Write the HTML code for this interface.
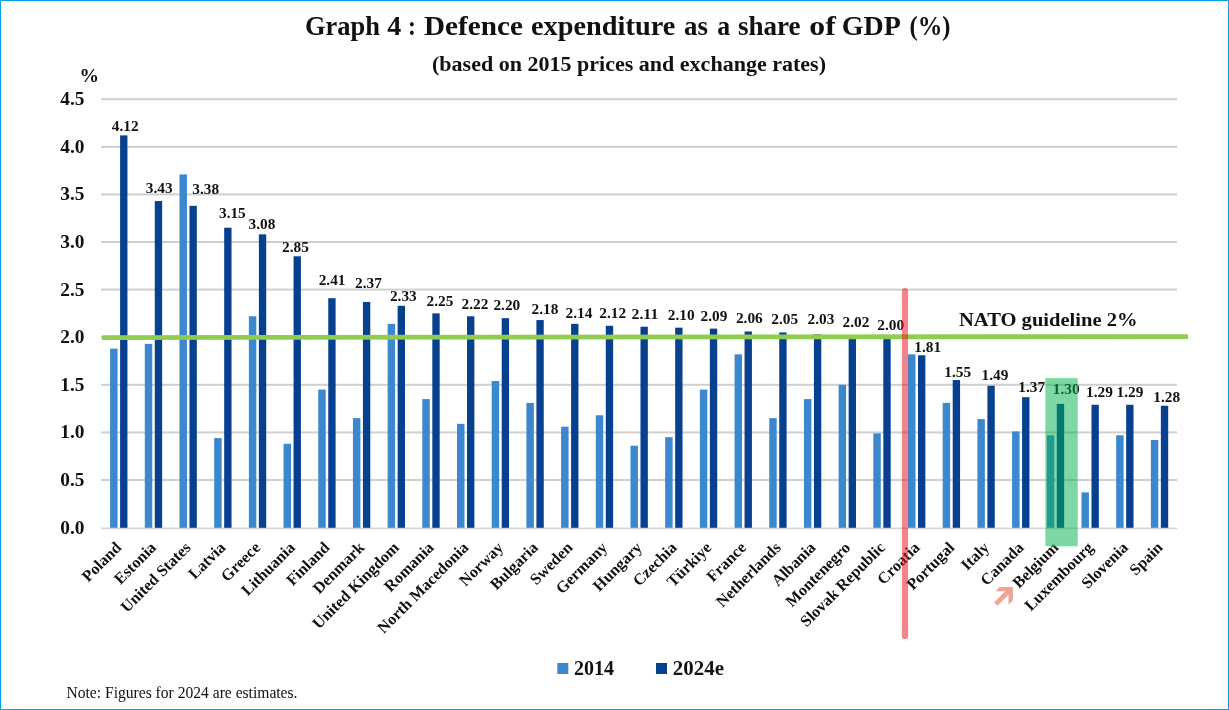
<!DOCTYPE html>
<html><head><meta charset="utf-8"><title>Graph 4</title>
<style>
html,body{margin:0;padding:0;background:#fff;}
body{width:1229px;height:710px;overflow:hidden;}
svg{display:block;will-change:transform;}
text{font-family:"Liberation Serif",serif;fill:#111;}
.title{font-size:26.5px;font-weight:bold;}
.sub{font-size:20.5px;font-weight:bold;}
.yl{font-size:19px;font-weight:bold;}
.pct{font-size:19.5px;font-weight:bold;}
.vl{font-size:14.5px;font-weight:bold;}
.xl{font-size:16.1px;font-weight:bold;}
.nato{font-size:19.6px;font-weight:bold;}
.leg{font-size:20px;font-weight:bold;}
.note{font-size:16px;}
</style></head><body>
<svg width="1229" height="710" viewBox="0 0 1229 710">
<rect x="0" y="0" width="1229" height="710" fill="#ffffff"/>
<rect x="101.0" y="527.50" width="1076.0" height="1.7" fill="#d6d6d6"/>
<rect x="101.0" y="479.00" width="1076.0" height="2" fill="#cfcfcf"/>
<rect x="101.0" y="431.40" width="1076.0" height="2" fill="#cfcfcf"/>
<rect x="101.0" y="383.80" width="1076.0" height="2" fill="#cfcfcf"/>
<rect x="101.0" y="336.20" width="1076.0" height="2" fill="#cfcfcf"/>
<rect x="101.0" y="288.60" width="1076.0" height="2" fill="#cfcfcf"/>
<rect x="101.0" y="241.00" width="1076.0" height="2" fill="#cfcfcf"/>
<rect x="101.0" y="193.40" width="1076.0" height="2" fill="#cfcfcf"/>
<rect x="101.0" y="145.80" width="1076.0" height="2" fill="#cfcfcf"/>
<rect x="101.0" y="98.20" width="1076.0" height="2" fill="#cfcfcf"/>
<text x="84.5" y="533.60" class="yl" text-anchor="end" textLength="24.2" lengthAdjust="spacingAndGlyphs">0.0</text>
<text x="84.5" y="486.00" class="yl" text-anchor="end" textLength="24.2" lengthAdjust="spacingAndGlyphs">0.5</text>
<text x="84.5" y="438.40" class="yl" text-anchor="end" textLength="24.2" lengthAdjust="spacingAndGlyphs">1.0</text>
<text x="84.5" y="390.80" class="yl" text-anchor="end" textLength="24.2" lengthAdjust="spacingAndGlyphs">1.5</text>
<text x="84.5" y="343.20" class="yl" text-anchor="end" textLength="24.2" lengthAdjust="spacingAndGlyphs">2.0</text>
<text x="84.5" y="295.60" class="yl" text-anchor="end" textLength="24.2" lengthAdjust="spacingAndGlyphs">2.5</text>
<text x="84.5" y="248.00" class="yl" text-anchor="end" textLength="24.2" lengthAdjust="spacingAndGlyphs">3.0</text>
<text x="84.5" y="200.40" class="yl" text-anchor="end" textLength="24.2" lengthAdjust="spacingAndGlyphs">3.5</text>
<text x="84.5" y="152.80" class="yl" text-anchor="end" textLength="24.2" lengthAdjust="spacingAndGlyphs">4.0</text>
<text x="84.5" y="105.20" class="yl" text-anchor="end" textLength="24.2" lengthAdjust="spacingAndGlyphs">4.5</text>
<text x="79.5" y="81.5" class="pct">%</text>
<rect x="110.10" y="348.62" width="7.45" height="179.18" fill="#3b88ce"/>
<rect x="120.10" y="135.38" width="7.35" height="392.42" fill="#06408f"/>
<rect x="144.79" y="343.86" width="7.45" height="183.94" fill="#3b88ce"/>
<rect x="154.79" y="201.06" width="7.35" height="326.74" fill="#06408f"/>
<rect x="179.48" y="174.41" width="7.45" height="353.39" fill="#3b88ce"/>
<rect x="189.48" y="205.82" width="7.35" height="321.98" fill="#06408f"/>
<rect x="214.18" y="438.11" width="7.45" height="89.69" fill="#3b88ce"/>
<rect x="224.18" y="227.72" width="7.35" height="300.08" fill="#06408f"/>
<rect x="248.87" y="316.26" width="7.45" height="211.54" fill="#3b88ce"/>
<rect x="258.87" y="234.38" width="7.35" height="293.42" fill="#06408f"/>
<rect x="283.56" y="443.82" width="7.45" height="83.98" fill="#3b88ce"/>
<rect x="293.56" y="256.28" width="7.35" height="271.52" fill="#06408f"/>
<rect x="318.25" y="389.56" width="7.45" height="138.24" fill="#3b88ce"/>
<rect x="328.25" y="298.17" width="7.35" height="229.63" fill="#06408f"/>
<rect x="352.94" y="418.12" width="7.45" height="109.68" fill="#3b88ce"/>
<rect x="362.94" y="301.98" width="7.35" height="225.82" fill="#06408f"/>
<rect x="387.64" y="323.87" width="7.45" height="203.93" fill="#3b88ce"/>
<rect x="397.64" y="305.78" width="7.35" height="222.02" fill="#06408f"/>
<rect x="422.33" y="399.08" width="7.45" height="128.72" fill="#3b88ce"/>
<rect x="432.33" y="313.40" width="7.35" height="214.40" fill="#06408f"/>
<rect x="457.02" y="423.83" width="7.45" height="103.97" fill="#3b88ce"/>
<rect x="467.02" y="316.26" width="7.35" height="211.54" fill="#06408f"/>
<rect x="491.71" y="380.99" width="7.45" height="146.81" fill="#3b88ce"/>
<rect x="501.71" y="318.16" width="7.35" height="209.64" fill="#06408f"/>
<rect x="526.40" y="402.89" width="7.45" height="124.91" fill="#3b88ce"/>
<rect x="536.40" y="320.06" width="7.35" height="207.74" fill="#06408f"/>
<rect x="561.10" y="426.69" width="7.45" height="101.11" fill="#3b88ce"/>
<rect x="571.10" y="323.87" width="7.35" height="203.93" fill="#06408f"/>
<rect x="595.79" y="415.26" width="7.45" height="112.54" fill="#3b88ce"/>
<rect x="605.79" y="325.78" width="7.35" height="202.02" fill="#06408f"/>
<rect x="630.48" y="445.73" width="7.45" height="82.07" fill="#3b88ce"/>
<rect x="640.48" y="326.73" width="7.35" height="201.07" fill="#06408f"/>
<rect x="665.17" y="437.16" width="7.45" height="90.64" fill="#3b88ce"/>
<rect x="675.17" y="327.68" width="7.35" height="200.12" fill="#06408f"/>
<rect x="699.86" y="389.56" width="7.45" height="138.24" fill="#3b88ce"/>
<rect x="709.86" y="328.63" width="7.35" height="199.17" fill="#06408f"/>
<rect x="734.56" y="354.34" width="7.45" height="173.46" fill="#3b88ce"/>
<rect x="744.56" y="331.49" width="7.35" height="196.31" fill="#06408f"/>
<rect x="769.25" y="418.12" width="7.45" height="109.68" fill="#3b88ce"/>
<rect x="779.25" y="332.44" width="7.35" height="195.36" fill="#06408f"/>
<rect x="803.94" y="399.08" width="7.45" height="128.72" fill="#3b88ce"/>
<rect x="813.94" y="334.34" width="7.35" height="193.46" fill="#06408f"/>
<rect x="838.63" y="384.80" width="7.45" height="143.00" fill="#3b88ce"/>
<rect x="848.63" y="335.30" width="7.35" height="192.50" fill="#06408f"/>
<rect x="873.32" y="433.35" width="7.45" height="94.45" fill="#3b88ce"/>
<rect x="883.32" y="337.20" width="7.35" height="190.60" fill="#06408f"/>
<rect x="908.02" y="354.34" width="7.45" height="173.46" fill="#3b88ce"/>
<rect x="918.02" y="355.29" width="7.35" height="172.51" fill="#06408f"/>
<rect x="942.71" y="402.89" width="7.45" height="124.91" fill="#3b88ce"/>
<rect x="952.71" y="380.04" width="7.35" height="147.76" fill="#06408f"/>
<rect x="977.40" y="419.07" width="7.45" height="108.73" fill="#3b88ce"/>
<rect x="987.40" y="385.75" width="7.35" height="142.05" fill="#06408f"/>
<rect x="1012.09" y="431.45" width="7.45" height="96.35" fill="#3b88ce"/>
<rect x="1022.09" y="397.18" width="7.35" height="130.62" fill="#06408f"/>
<rect x="1046.78" y="435.26" width="7.45" height="92.54" fill="#3b88ce"/>
<rect x="1056.78" y="403.84" width="7.35" height="123.96" fill="#06408f"/>
<rect x="1081.48" y="492.38" width="7.45" height="35.42" fill="#3b88ce"/>
<rect x="1091.48" y="404.79" width="7.35" height="123.01" fill="#06408f"/>
<rect x="1116.17" y="435.26" width="7.45" height="92.54" fill="#3b88ce"/>
<rect x="1126.17" y="404.79" width="7.35" height="123.01" fill="#06408f"/>
<rect x="1150.86" y="440.02" width="7.45" height="87.78" fill="#3b88ce"/>
<rect x="1160.86" y="405.74" width="7.35" height="122.06" fill="#06408f"/>
<text x="125.25" y="130.68" class="vl" text-anchor="middle" textLength="26.8" lengthAdjust="spacingAndGlyphs">4.12</text>
<text x="159.26" y="192.66" class="vl" text-anchor="middle" textLength="26.8" lengthAdjust="spacingAndGlyphs">3.43</text>
<text x="205.67" y="193.52" class="vl" text-anchor="middle" textLength="26.8" lengthAdjust="spacingAndGlyphs">3.38</text>
<text x="232.38" y="218.22" class="vl" text-anchor="middle" textLength="26.8" lengthAdjust="spacingAndGlyphs">3.15</text>
<text x="261.99" y="228.78" class="vl" text-anchor="middle" textLength="26.8" lengthAdjust="spacingAndGlyphs">3.08</text>
<text x="295.40" y="252.08" class="vl" text-anchor="middle" textLength="26.8" lengthAdjust="spacingAndGlyphs">2.85</text>
<text x="332.11" y="285.27" class="vl" text-anchor="middle" textLength="26.8" lengthAdjust="spacingAndGlyphs">2.41</text>
<text x="368.52" y="288.48" class="vl" text-anchor="middle" textLength="26.8" lengthAdjust="spacingAndGlyphs">2.37</text>
<text x="403.33" y="301.28" class="vl" text-anchor="middle" textLength="26.8" lengthAdjust="spacingAndGlyphs">2.33</text>
<text x="439.94" y="305.50" class="vl" text-anchor="middle" textLength="26.8" lengthAdjust="spacingAndGlyphs">2.25</text>
<text x="474.95" y="308.56" class="vl" text-anchor="middle" textLength="26.8" lengthAdjust="spacingAndGlyphs">2.22</text>
<text x="506.86" y="309.76" class="vl" text-anchor="middle" textLength="26.8" lengthAdjust="spacingAndGlyphs">2.20</text>
<text x="544.97" y="313.86" class="vl" text-anchor="middle" textLength="26.8" lengthAdjust="spacingAndGlyphs">2.18</text>
<text x="578.98" y="317.87" class="vl" text-anchor="middle" textLength="26.8" lengthAdjust="spacingAndGlyphs">2.14</text>
<text x="612.69" y="317.88" class="vl" text-anchor="middle" textLength="26.8" lengthAdjust="spacingAndGlyphs">2.12</text>
<text x="644.90" y="318.53" class="vl" text-anchor="middle" textLength="26.8" lengthAdjust="spacingAndGlyphs">2.11</text>
<text x="681.21" y="319.78" class="vl" text-anchor="middle" textLength="26.8" lengthAdjust="spacingAndGlyphs">2.10</text>
<text x="713.92" y="321.43" class="vl" text-anchor="middle" textLength="26.8" lengthAdjust="spacingAndGlyphs">2.09</text>
<text x="749.33" y="323.09" class="vl" text-anchor="middle" textLength="26.8" lengthAdjust="spacingAndGlyphs">2.06</text>
<text x="784.64" y="324.24" class="vl" text-anchor="middle" textLength="26.8" lengthAdjust="spacingAndGlyphs">2.05</text>
<text x="820.95" y="324.44" class="vl" text-anchor="middle" textLength="26.8" lengthAdjust="spacingAndGlyphs">2.03</text>
<text x="855.96" y="326.90" class="vl" text-anchor="middle" textLength="26.8" lengthAdjust="spacingAndGlyphs">2.02</text>
<text x="890.77" y="329.50" class="vl" text-anchor="middle" textLength="26.8" lengthAdjust="spacingAndGlyphs">2.00</text>
<text x="927.68" y="351.99" class="vl" text-anchor="middle" textLength="26.8" lengthAdjust="spacingAndGlyphs">1.81</text>
<text x="957.79" y="376.54" class="vl" text-anchor="middle" textLength="26.8" lengthAdjust="spacingAndGlyphs">1.55</text>
<text x="995.00" y="380.05" class="vl" text-anchor="middle" textLength="26.8" lengthAdjust="spacingAndGlyphs">1.49</text>
<text x="1031.71" y="391.98" class="vl" text-anchor="middle" textLength="26.8" lengthAdjust="spacingAndGlyphs">1.37</text>
<text x="1066.22" y="394.44" class="vl" text-anchor="middle" textLength="26.8" lengthAdjust="spacingAndGlyphs">1.30</text>
<text x="1099.43" y="396.59" class="vl" text-anchor="middle" textLength="26.8" lengthAdjust="spacingAndGlyphs">1.29</text>
<text x="1129.94" y="397.39" class="vl" text-anchor="middle" textLength="26.8" lengthAdjust="spacingAndGlyphs">1.29</text>
<text x="1166.65" y="401.94" class="vl" text-anchor="middle" textLength="26.8" lengthAdjust="spacingAndGlyphs">1.28</text>
<text transform="translate(122.35,548.5) rotate(-45)" class="xl" text-anchor="end">Poland</text>
<text transform="translate(157.06,548.5) rotate(-45)" class="xl" text-anchor="end">Estonia</text>
<text transform="translate(191.77,548.5) rotate(-45)" class="xl" text-anchor="end">United States</text>
<text transform="translate(226.48,548.5) rotate(-45)" class="xl" text-anchor="end">Latvia</text>
<text transform="translate(261.19,548.5) rotate(-45)" class="xl" text-anchor="end">Greece</text>
<text transform="translate(295.90,548.5) rotate(-45)" class="xl" text-anchor="end">Lithuania</text>
<text transform="translate(330.61,548.5) rotate(-45)" class="xl" text-anchor="end">Finland</text>
<text transform="translate(365.32,548.5) rotate(-45)" class="xl" text-anchor="end">Denmark</text>
<text transform="translate(400.03,548.5) rotate(-45)" class="xl" text-anchor="end">United Kingdom</text>
<text transform="translate(434.74,548.5) rotate(-45)" class="xl" text-anchor="end">Romania</text>
<text transform="translate(469.45,548.5) rotate(-45)" class="xl" text-anchor="end">North Macedonia</text>
<text transform="translate(504.16,548.5) rotate(-45)" class="xl" text-anchor="end">Norway</text>
<text transform="translate(538.87,548.5) rotate(-45)" class="xl" text-anchor="end">Bulgaria</text>
<text transform="translate(573.58,548.5) rotate(-45)" class="xl" text-anchor="end">Sweden</text>
<text transform="translate(608.29,548.5) rotate(-45)" class="xl" text-anchor="end">Germany</text>
<text transform="translate(643.00,548.5) rotate(-45)" class="xl" text-anchor="end">Hungary</text>
<text transform="translate(677.71,548.5) rotate(-45)" class="xl" text-anchor="end">Czechia</text>
<text transform="translate(712.42,548.5) rotate(-45)" class="xl" text-anchor="end">Türkiye</text>
<text transform="translate(747.13,548.5) rotate(-45)" class="xl" text-anchor="end">France</text>
<text transform="translate(781.84,548.5) rotate(-45)" class="xl" text-anchor="end">Netherlands</text>
<text transform="translate(816.55,548.5) rotate(-45)" class="xl" text-anchor="end">Albania</text>
<text transform="translate(851.26,548.5) rotate(-45)" class="xl" text-anchor="end">Montenegro</text>
<text transform="translate(885.97,548.5) rotate(-45)" class="xl" text-anchor="end">Slovak Republic</text>
<text transform="translate(920.68,548.5) rotate(-45)" class="xl" text-anchor="end">Croatia</text>
<text transform="translate(955.39,548.5) rotate(-45)" class="xl" text-anchor="end">Portugal</text>
<text transform="translate(990.10,548.5) rotate(-45)" class="xl" text-anchor="end">Italy</text>
<text transform="translate(1024.81,548.5) rotate(-45)" class="xl" text-anchor="end">Canada</text>
<text transform="translate(1059.52,548.5) rotate(-45)" class="xl" text-anchor="end">Belgium</text>
<text transform="translate(1094.23,548.5) rotate(-45)" class="xl" text-anchor="end">Luxembourg</text>
<text transform="translate(1128.94,548.5) rotate(-45)" class="xl" text-anchor="end">Slovenia</text>
<text transform="translate(1163.65,548.5) rotate(-45)" class="xl" text-anchor="end">Spain</text>
<line x1="102" y1="337.55" x2="1188" y2="336.6" stroke="#90cc4f" stroke-width="4.8"/>
<text x="959" y="325.8" class="nato" textLength="178.5" lengthAdjust="spacingAndGlyphs">NATO guideline 2%</text>
<line x1="905" y1="291" x2="905" y2="636" stroke="#e81123" stroke-opacity="0.52" stroke-width="6.2" stroke-linecap="round"/>
<rect x="1045.7" y="378.4" width="31.7" height="167.6" fill="#00b050" fill-opacity="0.5" stroke="#5cf07a" stroke-opacity="0.7" stroke-width="0.8"/>
<polygon fill="#eaa798" points="999.4,587 1012.9,587 1012.9,600.5 1008.5,604.4 1008.5,594.8 997.5,605.8 994.1,602.4 1005.2,591.3 995.6,591.3"/>
<text x="305.0" y="34.8" class="title" textLength="74.9" lengthAdjust="spacingAndGlyphs">Graph</text>
<text x="387.2" y="34.8" class="title" textLength="14.0" lengthAdjust="spacingAndGlyphs">4</text>
<text x="407.9" y="34.8" class="title" textLength="7.9" lengthAdjust="spacingAndGlyphs">:</text>
<text x="424.0" y="34.8" class="title" textLength="98.9" lengthAdjust="spacingAndGlyphs">Defence</text>
<text x="531.0" y="34.8" class="title" textLength="144.3" lengthAdjust="spacingAndGlyphs">expenditure</text>
<text x="684.0" y="34.8" class="title" textLength="23.9" lengthAdjust="spacingAndGlyphs">as</text>
<text x="717.2" y="34.8" class="title" textLength="12.9" lengthAdjust="spacingAndGlyphs">a</text>
<text x="737.9" y="34.8" class="title" textLength="62.7" lengthAdjust="spacingAndGlyphs">share</text>
<text x="809.3" y="34.8" class="title" textLength="26.5" lengthAdjust="spacingAndGlyphs">of</text>
<text x="841.7" y="34.8" class="title" textLength="59.1" lengthAdjust="spacingAndGlyphs">GDP</text>
<text x="909.5" y="34.8" class="title" textLength="41.0" lengthAdjust="spacingAndGlyphs">(%)</text>
<text x="629" y="71" class="sub" text-anchor="middle" textLength="394" lengthAdjust="spacingAndGlyphs">(based on 2015 prices and exchange rates)</text>
<rect x="557.3" y="663" width="11" height="11" fill="#3b88ce"/>
<text x="574" y="674.5" class="leg" textLength="40" lengthAdjust="spacingAndGlyphs">2014</text>
<rect x="656" y="663" width="11" height="11" fill="#06408f"/>
<text x="672.8" y="674.5" class="leg" textLength="51.2" lengthAdjust="spacingAndGlyphs">2024e</text>
<text x="66.5" y="698" class="note" textLength="231" lengthAdjust="spacingAndGlyphs">Note: Figures for 2024 are estimates.</text>
<rect x="0.5" y="0.5" width="1228" height="709" fill="none" stroke="#00a2e8" stroke-width="1"/>
</svg>
</body></html>
